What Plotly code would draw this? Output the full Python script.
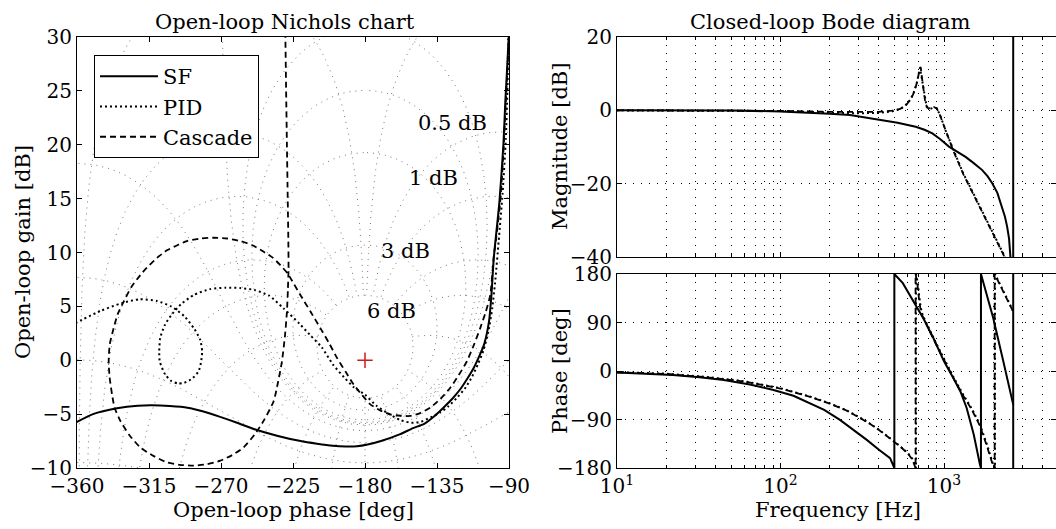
import numpy as np
import plotly.graph_objects as go

W, H = 1056, 529

# ---------------- Nichols (open loop) data: phase [deg], gain [dB] ----------------
sf_ol_phase = [-361, -350, -335, -322, -313, -302, -291, -281, -271, -260, -249, -235, -221, -210,
               -200, -192, -185, -179, -170, -158, -150, -143, -136, -131, -125, -120, -116, -112,
               -108.5, -105.5, -102.5, -101, -99.5, -96, -93.5, -92.3, -91.2, -90]
sf_ol_gain = [-5.8, -5.0, -4.46, -4.22, -4.18, -4.25, -4.4, -4.75, -5.23, -5.8, -6.4, -7.0, -7.48, -7.75,
              -7.94, -8.0, -7.98, -7.85, -7.5, -6.86, -6.3, -5.9, -5.1, -4.4, -3.5, -2.6, -1.7, -0.7,
              0.4, 1.5, 3.6, 6.0, 9.5, 14.7, 20, 24, 27, 30.5]

pid_ol_phase = [-361, -345, -332, -321, -310, -301, -293, -287, -283, -281.8, -282.5, -284, -288, -293,
                -297, -301, -305, -308.3, -308.6, -308, -305, -301, -295, -287, -277, -267, -258, -249,
                -240, -231, -221, -214.5, -207, -200, -193, -187, -180, -173, -166, -158, -151, -145,
                -139, -133, -128, -122, -117, -113, -109.5, -106, -103, -100.5, -98.5, -96.5, -94, -92,
                -91, -90.2]
pid_ol_gain = [3.45, 4.6, 5.3, 5.66, 5.5, 4.98, 4.1, 2.98, 1.9, 0.83, -0.2, -1.02, -1.7, -2.09,
               -2.15, -1.94, -1.3, -0.09, 0.8, 2.06, 3.3, 4.2, 5.2, 6.06, 6.6, 6.74, 6.7, 6.52,
               6.0, 4.83, 3.4, 2.37, 1.2, -0.4, -1.6, -2.5, -3.2, -4.2, -4.9, -5.55, -5.8, -5.7,
               -5.3, -4.85, -4.3, -3.4, -2.5, -1.5, -0.4, 0.9, 2.6, 4.8, 7.5, 11, 15.5, 20.5,
               25, 30.5]

cas_ol_phase = [-229.8, -229.3, -228.8, -228.3, -227.9, -227.8, -228.2, -228.8, -230.0, -231.9, -234.3,
                -237.1, -243.4, -249, -255.9, -263, -270.4, -279, -287.1, -296, -303.8, -312, -320.4,
                -327, -332.9, -336.5, -338.1, -339.6, -340.2, -339.5, -337.1, -334.5, -330.8, -326,
                -320.4, -316.3, -310, -303.8, -297, -291.3, -283, -274.6, -266, -257.9, -250, -243.3,
                -237.5, -232.9, -228.6, -224.5, -220.4, -214, -207.9, -202.5, -197.5, -192, -187.1,
                -182, -176.7, -170, -164.2, -158, -151.7, -145.5, -139.2, -133, -126.7, -121.5,
                -116.3, -112, -108, -104.5, -101.7, -99.6, -97.5, -95.5, -93.8, -92.3, -91, -89.8]
cas_ol_gain = [30.5, 25, 20, 15, 11, 8.5, 6.5, 4.5, 2.3, -0.1, -2.0,
               -3.8, -5.63, -6.9, -8.09, -8.8, -9.32, -9.65, -9.78, -9.7, -9.48, -8.9, -8.09,
               -7.0, -5.63, -4.4, -3.17, -1.6, -0.09, 1.5, 2.98, 4.3, 5.45, 6.8,
               7.91, 8.6, 9.5, 10.2, 10.7, 11.06, 11.3, 11.37, 11.3, 11.06, 10.65, 10.06,
               9.5, 8.82, 8.1, 7.1, 6.06, 4.5, 2.98, 1.6, 0.22, -1.1, -2.25,
               -3.2, -4.09, -4.7, -5.02, -5.15, -5.17, -4.9, -4.4, -3.6, -2.55, -1.4,
               -0.09, 1.4, 2.98, 4.5, 6.06, 9.5, 12, 14.7, 18.5, 23, 27, 30.5]

# Nichols chart grid values (closed-loop gain [dB] and phase [deg])
ngrid_gains_db = [6, 3, 1, 0.5, 0.25, 0, -1, -3, -6, -12, -20, -40]
ngrid_phases_deg = [-1, -5, -10, -20, -30, -50, -90, -120, -150, -180, -210, -240, -270,
                    -310, -330, -340, -350, -355, -359]
ngrid_labels = ["0.5 dB", "1 dB", "3 dB", "6 dB"]
ngrid_label_phase = [-125.3, -137.3, -154.5, -163.3]
ngrid_label_gain = [22.0, 16.9, 10.1, 4.55]

# ---------------- Closed-loop Bode data ----------------
nyquist_hz = 2650

sf_mag_f = [10, 20, 50, 100, 150, 200, 266, 330, 421, 520, 671, 760, 849, 950, 1072, 1200, 1355, 1520,
            1713, 1850, 1972, 2120, 2270, 2360, 2433, 2500, 2548, 2620]
sf_mag_db = [0, 0, -0.05, -0.3, -0.6, -0.9, -1.3, -2.0, -2.7, -3.4, -4.5, -5.3, -6.3, -7.9, -9.9, -11.3,
             -12.7, -14.4, -16.3, -18.0, -19.9, -22.5, -26.3, -29, -31.7, -35, -39.9, -70]

pid_mag_f = [10, 50, 100, 200, 300, 400, 480, 538, 580, 620, 650, 681, 700, 713, 730, 747, 765, 783,
             820, 861, 902, 946, 1038, 1140, 1312, 1585, 1910, 2305, 2650]
pid_mag_db = [0, -0.05, -0.2, -0.6, -0.8, -0.7, -0.3, 0.3, 1.3, 2.8, 4.6, 7.4, 9.5, 11.6, 9.0, 6.0, 3.0,
              1.0, 0.4, 0.7, 0.6, -1.3, -6.3, -10.8, -17.2, -24.5, -31.8, -39.1, -46]

cas_mag_f = [10, 50, 100, 200, 300, 400, 480, 540, 590, 630, 660, 690, 710, 720, 735, 750, 768, 790,
             825, 865, 905, 950, 1040, 1140, 1312, 1585, 1910, 2305, 2650]
cas_mag_db = [0, -0.05, -0.15, -0.4, -0.5, -0.4, -0.1, 0.4, 1.6, 3.2, 5.2, 8.3, 11.4, 11.8, 8.5, 5.0,
              2.2, 0.7, 0.5, 0.9, 0.5, -1.6, -6.5, -11.0, -17.4, -24.7, -32.0, -39.3, -46]

sf_ph_f = [10, 15, 22, 32, 45, 65, 90.6, 120, 145, 185, 231, 280, 337, 400, 468, 497,
           497, 560, 649, 750, 861, 1000, 1140, 1260, 1376, 1520, 1660, 1683,
           1683, 2000, 2305, 2650]
sf_ph_deg = [-3, -5, -7.4, -11.5, -16.7, -25, -35.2, -46, -56.8, -72, -90.8, -109, -127.8, -146, -161.8, -180,
             180, 163, 129.4, 97, 61.3, 18, -12.9, -38, -68.6, -118, -173.8, -180,
             180, 98.4, 18, -62.4]

pid_ph_f = [10, 20, 35, 60, 100, 150, 200, 250, 300, 350, 400, 450, 497, 550, 600, 640, 674,
            674, 690, 705, 720, 740, 770, 830, 900, 1038, 1160, 1312, 1480, 1660, 1830, 2000, 2050,
            2050, 2305, 2650]
pid_ph_deg = [-2, -5, -11, -19, -32, -47, -60, -72, -85, -97, -109, -120, -131, -142, -152, -163, -180,
              180, 165, 140, 118, 104, 92, 72, 50, 11.8, -15, -44, -70, -99.6, -136, -173.8, -180,
              180, 148, 111]

cas_ph_f = [10, 20, 35, 60, 100, 150, 200, 250, 300, 350, 400, 450, 497, 550, 600, 640, 670,
            670, 686, 700, 716, 736, 766, 826, 896, 1035, 1155, 1305, 1475, 1650, 1820, 1990, 2040,
            2040, 2305, 2650]
cas_ph_deg = [-2.5, -5.5, -11.5, -19.5, -32.5, -47.5, -60.5, -72.5, -85.5, -97.5, -109.5, -120.5, -131.5,
              -142.5, -153, -164, -180,
              180, 164, 139, 117, 103, 91, 71, 49, 11, -16, -45, -71, -100.5, -137, -174.5, -180,
              180, 147, 110]

# ---------------- helpers ----------------
def px_x(p):
    return p / W


def px_y(p):
    return 1 - p / H


FONT = "DejaVu Serif"

fig = go.Figure()


def break_wraps(ph, g):
    xs, ys = [], []
    for i in range(len(ph)):
        if i > 0 and (abs(ph[i] - ph[i - 1]) > 90 or not np.isfinite(g[i]) or not np.isfinite(g[i - 1])):
            xs.append(None)
            ys.append(None)
        if np.isfinite(g[i]):
            xs.append(float(ph[i]))
            ys.append(float(g[i]))
    return xs, ys


# Nichols grid (M and N contours)
gx, gy = [], []
psi = np.radians(np.linspace(-359.9, -0.1, 1500))
for gdb in ngrid_gains_db:
    T = 10 ** (gdb / 20) * np.exp(1j * psi)
    L = T / (1 - T)
    ph = np.mod(np.degrees(np.angle(L)), -360.0)
    g = 20 * np.log10(np.abs(L))
    g = np.where((g > -60) & (g < 60), g, np.nan)
    x, y = break_wraps(ph, g)
    gx += x + [None]
    gy += y + [None]
mags = np.logspace(min(ngrid_gains_db) / 20, max(ngrid_gains_db) / 20, 1500)
for pdeg in ngrid_phases_deg:
    T = mags * np.exp(1j * np.radians(pdeg))
    L = T / (1 - T)
    ph = np.mod(np.degrees(np.angle(L)), -360.0)
    g = 20 * np.log10(np.abs(L))
    g = np.where((g > -60) & (g < 60), g, np.nan)
    x, y = break_wraps(ph, g)
    gx += x + [None]
    gy += y + [None]

fig.add_trace(go.Scatter(x=gx, y=gy, mode="lines", xaxis="x", yaxis="y", showlegend=False,
                         hoverinfo="skip",
                         line=dict(color="rgb(120,120,120)", width=1, dash="1px,5px")))

fig.add_trace(go.Scatter(x=sf_ol_phase, y=sf_ol_gain, mode="lines", name="SF", xaxis="x", yaxis="y",
                         line=dict(color="black", width=2, shape="spline", smoothing=0.6)))
fig.add_trace(go.Scatter(x=pid_ol_phase, y=pid_ol_gain, mode="lines", name="PID", xaxis="x", yaxis="y",
                         line=dict(color="black", width=2, dash="2px,3px", shape="spline", smoothing=0.6)))
fig.add_trace(go.Scatter(x=cas_ol_phase, y=cas_ol_gain, mode="lines", name="Cascade", xaxis="x", yaxis="y",
                         line=dict(color="black", width=1.8, dash="6px,4px", shape="spline", smoothing=0.6)))
fig.add_trace(go.Scatter(x=[-180], y=[0], mode="markers", xaxis="x", yaxis="y", showlegend=False,
                         marker=dict(symbol="cross-thin", size=11, line=dict(color="rgb(200,30,30)", width=1.5))))

for lab, lp, lg in zip(ngrid_labels, ngrid_label_phase, ngrid_label_gain):
    fig.add_annotation(x=lp, y=lg, xref="x", yref="y", text=lab, showarrow=False,
                       font=dict(family=FONT, size=21, color="black"))

# Bode magnitude
fig.add_trace(go.Scatter(x=sf_mag_f, y=sf_mag_db, mode="lines", xaxis="x2", yaxis="y2", showlegend=False,
                         line=dict(color="black", width=2)))
fig.add_trace(go.Scatter(x=pid_mag_f, y=pid_mag_db, mode="lines", xaxis="x2", yaxis="y2", showlegend=False,
                         line=dict(color="black", width=2, dash="2px,3px")))
fig.add_trace(go.Scatter(x=cas_mag_f, y=cas_mag_db, mode="lines", xaxis="x2", yaxis="y2", showlegend=False,
                         line=dict(color="black", width=1.8, dash="6px,4px")))
fig.add_trace(go.Scatter(x=[nyquist_hz, nyquist_hz], y=[-1000, 1000], mode="lines", xaxis="x2", yaxis="y2",
                         showlegend=False, line=dict(color="black", width=2)))

# Bode phase
fig.add_trace(go.Scatter(x=sf_ph_f, y=sf_ph_deg, mode="lines", xaxis="x3", yaxis="y3", showlegend=False,
                         line=dict(color="black", width=2)))
fig.add_trace(go.Scatter(x=pid_ph_f, y=pid_ph_deg, mode="lines", xaxis="x3", yaxis="y3", showlegend=False,
                         line=dict(color="black", width=2, dash="2px,3px")))
fig.add_trace(go.Scatter(x=cas_ph_f, y=cas_ph_deg, mode="lines", xaxis="x3", yaxis="y3", showlegend=False,
                         line=dict(color="black", width=1.8, dash="6px,4px")))
fig.add_trace(go.Scatter(x=[nyquist_hz, nyquist_hz], y=[-1000, 1000], mode="lines", xaxis="x3", yaxis="y3",
                         showlegend=False, line=dict(color="black", width=2)))

tickfont = dict(family=FONT, size=20, color="black")
common = dict(showline=True, linecolor="black", linewidth=1.2, mirror="ticks", ticks="inside",
              ticklen=5, tickcolor="black", tickfont=tickfont, zeroline=False, automargin=False)

minor_vals = [m * 10 ** e for e in (1, 2, 3) for m in range(2, 10) if m * 10 ** e < 5000]
log_minor = dict(tickvals=minor_vals, ticks="inside", ticklen=3, tickcolor="black", showgrid=True,
                 gridcolor="black", griddash="1px,7px", gridwidth=1)
xr_log = [1, 1 + (W - 617) / 163.5]
bode_x_dom = [px_x(617), 1.0]

fig.update_layout(
    width=W, height=H, margin=dict(l=0, r=0, t=0, b=0, pad=0, autoexpand=False),
    paper_bgcolor="white", plot_bgcolor="white",
    font=dict(family=FONT, size=20, color="black"),
    showlegend=True,
    legend=dict(x=px_x(94), y=px_y(55), xanchor="left", yanchor="top", bgcolor="white",
                bordercolor="black", borderwidth=1, font=dict(family=FONT, size=21, color="black"),
                itemwidth=58, tracegroupgap=0),
    xaxis=dict(domain=[px_x(77), px_x(509)], range=[-360, -90], tickvals=list(range(-360, -89, 45)),
               showgrid=False, anchor="y", **common),
    yaxis=dict(domain=[px_y(468), px_y(37)], range=[-10, 30], tickvals=list(range(-10, 31, 5)),
               showgrid=False, anchor="x", **common),
    xaxis2=dict(domain=bode_x_dom, type="log", range=xr_log, tickvals=[10, 100, 1000],
                showticklabels=False, showgrid=True, gridcolor="black", griddash="1px,7px", gridwidth=1,
                minor=log_minor, anchor="y2", **common),
    yaxis2=dict(domain=[px_y(257), px_y(37)], range=[-40, 20], tickvals=[-40, -20, 0, 20],
                showgrid=True, gridcolor="black", griddash="1px,7px", gridwidth=1, anchor="x2", **common),
    xaxis3=dict(domain=bode_x_dom, type="log", range=xr_log, tickvals=[10, 100, 1000],
                ticktext=["10<sup>1</sup>", "10<sup>2</sup>", "10<sup>3</sup>"],
                showgrid=True, gridcolor="black", griddash="1px,7px", gridwidth=1,
                minor=log_minor, anchor="y3", **common),
    yaxis3=dict(domain=[px_y(468), px_y(274)], range=[-180, 180], tickvals=[-180, -90, 0, 90, 180],
                showgrid=True, gridcolor="black", griddash="1px,7px", gridwidth=1, anchor="x3", **common),
)

labels = [
    ("Open-loop Nichols chart", 285, 22, 0),
    ("Closed-loop Bode diagram", 830, 22, 0),
    ("Open-loop phase [deg]", 293, 510, 0),
    ("Frequency [Hz]", 838, 510, 0),
    ("Open-loop gain [dB]", 23, 252, -90),
    ("Magnitude [dB]", 560, 147, -90),
    ("Phase [deg]", 560, 371, -90),
]
for txt, x, y, ang in labels:
    fig.add_annotation(x=px_x(x), y=px_y(y), xref="paper", yref="paper", text=txt, showarrow=False,
                       textangle=ang, xanchor="center", yanchor="middle",
                       font=dict(family=FONT, size=21, color="black"))

fig.write_html("out.html")
